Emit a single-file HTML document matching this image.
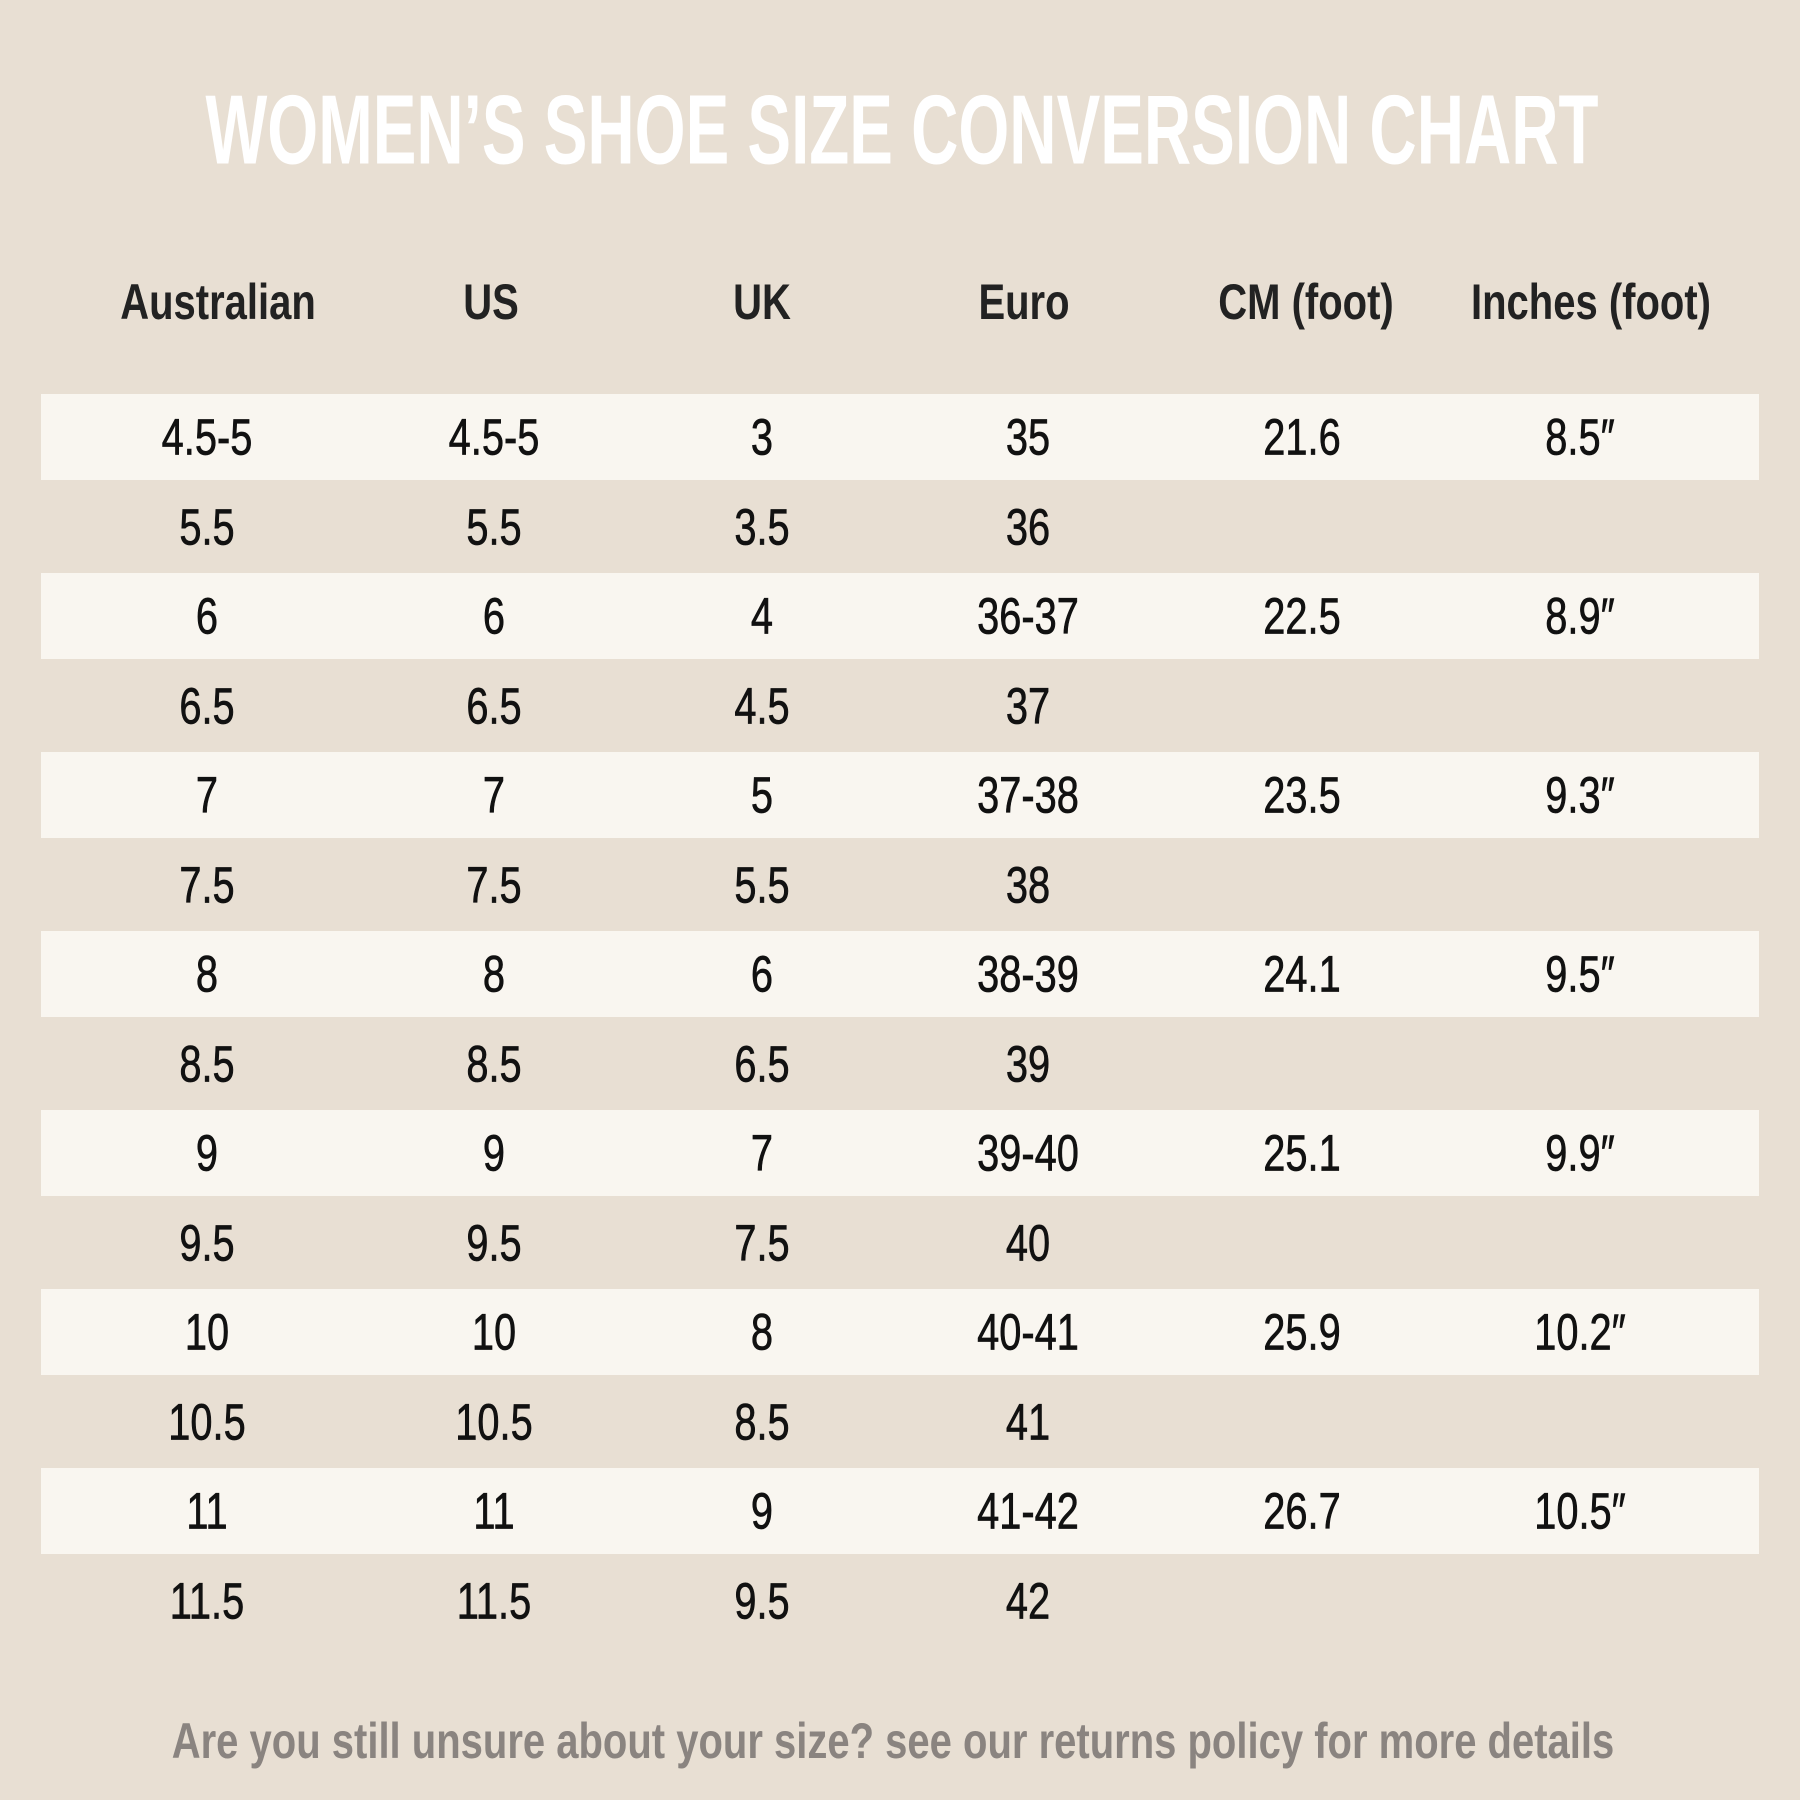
<!DOCTYPE html>
<html><head><meta charset="utf-8"><style>
body{margin:0;width:1800px;height:1800px;background:#e8dfd3;position:relative;overflow:hidden;font-family:"Liberation Sans",sans-serif;}
.s{position:absolute;left:41px;width:1718px;height:86px;background:#f9f6f0;}
.t{position:absolute;white-space:nowrap;transform:translate(-50%,-50%) scaleX(0.78);color:#111;font-size:51px;line-height:1;-webkit-text-stroke:0.7px #111;}
.h{font-size:50px;color:#222;font-weight:bold;transform:translate(-50%,-50%) scaleX(0.80);-webkit-text-stroke:0;}
#title{position:absolute;left:902px;top:130px;transform:translate(-50%,-50%) scaleX(0.668);color:#fff;font-weight:bold;font-size:98px;white-space:nowrap;}
#foot{position:absolute;left:893px;top:1741px;transform:translate(-50%,-50%) scaleX(0.80);color:#8a8480;font-weight:bold;font-size:50px;white-space:nowrap;}
</style></head><body>
<div id="title">WOMEN’S SHOE SIZE CONVERSION CHART</div>
<div class="s" style="top:394px"></div>
<div class="s" style="top:573px"></div>
<div class="s" style="top:752px"></div>
<div class="s" style="top:931px"></div>
<div class="s" style="top:1110px"></div>
<div class="s" style="top:1289px"></div>
<div class="s" style="top:1468px"></div>
<div class="t h" style="left:218px;top:302px">Australian</div>
<div class="t h" style="left:491px;top:302px">US</div>
<div class="t h" style="left:762px;top:302px">UK</div>
<div class="t h" style="left:1024px;top:302px">Euro</div>
<div class="t h" style="left:1306px;top:302px">CM (foot)</div>
<div class="t h" style="left:1591px;top:302px">Inches (foot)</div>
<div id="rows"></div>
<script>
var d=[["4.5-5","4.5-5","3","35","21.6","8.5″"],["5.5","5.5","3.5","36","",""],["6","6","4","36-37","22.5","8.9″"],["6.5","6.5","4.5","37","",""],["7","7","5","37-38","23.5","9.3″"],["7.5","7.5","5.5","38","",""],["8","8","6","38-39","24.1","9.5″"],["8.5","8.5","6.5","39","",""],["9","9","7","39-40","25.1","9.9″"],["9.5","9.5","7.5","40","",""],["10","10","8","40-41","25.9","10.2″"],["10.5","10.5","8.5","41","",""],["11","11","9","41-42","26.7","10.5″"],["11.5","11.5","9.5","42","",""]];
var xs=[207,494,762,1028,1302,1580],h="";
d.forEach(function(r,i){var y=437+i*89.5;r.forEach(function(v,j){if(v)h+='<div class="t" style="left:'+xs[j]+'px;top:'+y+'px">'+v+'</div>';});});
document.getElementById("rows").innerHTML=h;
</script>
<div id="foot">Are you still unsure about your size? see our returns policy for more details</div>
</body></html>
